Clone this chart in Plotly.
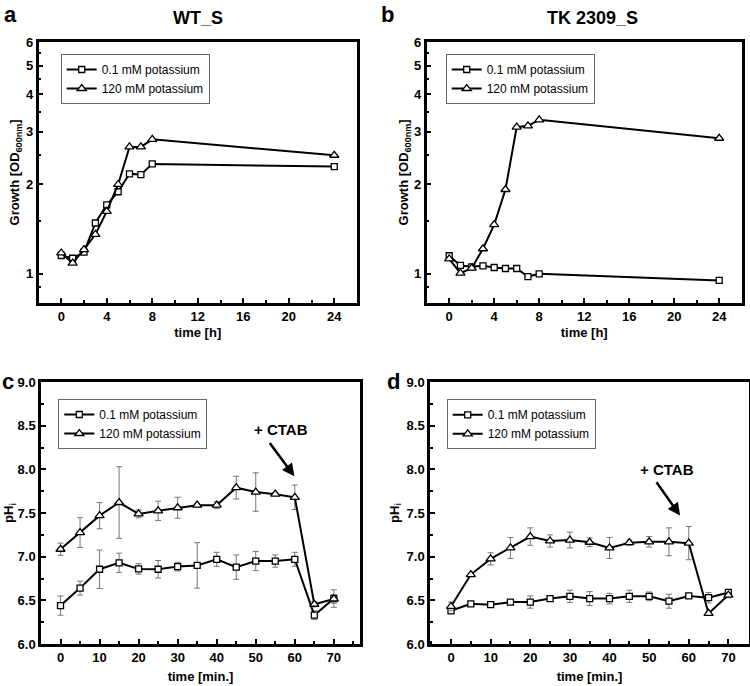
import math
import plotly.graph_objects as go

# ---------------- data ----------------
t_growth = [0, 1, 2, 3, 4, 5, 6, 7, 8, 24]
wt_low = [1.152, 1.128, 1.182, 1.481, 1.705, 1.886, 2.166, 2.153, 2.339, 2.291]
wt_high = [1.175, 1.086, 1.206, 1.357, 1.62, 1.995, 2.667, 2.667, 2.828, 2.50]
tk_low = [1.150, 1.067, 1.056, 1.064, 1.05, 1.042, 1.042, 0.979, 1.0, 0.950]
tk_high = [1.123, 1.005, 1.045, 1.214, 1.463, 1.919, 3.106, 3.139, 3.288, 2.851]

t_ph = [0, 5, 10, 15, 20, 25, 30, 35, 40, 45, 50, 55, 60, 65, 70]
c_low = [6.44, 6.64, 6.856, 6.93, 6.86, 6.856, 6.886, 6.90, 6.97, 6.88, 6.95, 6.95, 6.97, 6.33, 6.52]
c_low_err = [0.11, 0.08, 0.22, 0.11, 0.06, 0.10, 0.05, 0.26, 0.08, 0.14, 0.11, 0.07, 0.08, 0.05, 0.10]
c_high = [7.085, 7.276, 7.47, 7.62, 7.49, 7.525, 7.56, 7.59, 7.59, 7.79, 7.74, 7.716, 7.68, 6.455, 6.516]
c_high_err = [0.07, 0.17, 0.15, 0.41, 0.045, 0.11, 0.12, 0.02, 0.04, 0.13, 0.22, 0.02, 0.14, 0.03, 0.05]
d_low = [6.38, 6.46, 6.45, 6.48, 6.48, 6.52, 6.546, 6.52, 6.52, 6.546, 6.546, 6.49, 6.55, 6.53, 6.59]
d_low_err = [0.03, 0.0, 0.0, 0.02, 0.07, 0.03, 0.07, 0.08, 0.06, 0.07, 0.05, 0.08, 0.02, 0.06, 0.03]
d_high = [6.43, 6.795, 6.975, 7.10, 7.23, 7.18, 7.19, 7.165, 7.10, 7.16, 7.17, 7.17, 7.155, 6.35, 6.56]
d_high_err = [0.05, 0.01, 0.07, 0.12, 0.10, 0.07, 0.09, 0.05, 0.12, 0.03, 0.06, 0.16, 0.19, 0.02, 0.03]

series_names = ["0.1 mM potassium", "120 mM potassium"]
panel_titles = ["WT_S", "TK 2309_S"]
panel_letters = ["a", "b", "c", "d"]

W, H = 750, 686
ML, MR, MT, MB = 30, 0, 0, 40
PW, PH = W - ML - MR, H - MT - MB
FONT = "Liberation Sans, Arial, sans-serif"


def px(x):
    return (x - ML) / PW


def py(y):
    return 1 - (y - MT) / PH


fig = go.Figure()

sq = dict(symbol="square", size=6, color="white", line=dict(color="black", width=1.3))
tr = dict(symbol="triangle-up", size=8, color="white", line=dict(color="black", width=1.3))
ln = dict(color="black", width=2)

# growth panels
for i, (lo, hi) in enumerate([(wt_low, wt_high), (tk_low, tk_high)]):
    ax = "" if i == 0 else str(i + 1)
    lg = "legend" if i == 0 else "legend" + str(i + 1)
    fig.add_trace(go.Scatter(x=t_growth, y=lo, mode="lines+markers", name=series_names[0],
                             line=ln, marker=sq, xaxis="x" + ax, yaxis="y" + ax, legend=lg))
    fig.add_trace(go.Scatter(x=t_growth, y=hi, mode="lines+markers", name=series_names[1],
                             line=ln, marker=tr, xaxis="x" + ax, yaxis="y" + ax, legend=lg))

# pH panels
err_style = dict(type="data", color="#777777", thickness=1, width=3)
for i, (lo, loe, hi, hie) in enumerate([(c_low, c_low_err, c_high, c_high_err),
                                        (d_low, d_low_err, d_high, d_high_err)]):
    ax = str(i + 3)
    lg = "legend" + ax
    fig.add_trace(go.Scatter(x=t_ph, y=lo, mode="lines+markers", name=series_names[0],
                             error_y=dict(array=loe, **err_style),
                             line=ln, marker=sq, xaxis="x" + ax, yaxis="y" + ax, legend=lg))
    fig.add_trace(go.Scatter(x=t_ph, y=hi, mode="lines+markers", name=series_names[1],
                             error_y=dict(array=hie, **err_style),
                             line=ln, marker=tr, xaxis="x" + ax, yaxis="y" + ax, legend=lg))

tickfont = dict(family=FONT, size=13, color="black", weight="bold")
titlefont = dict(family=FONT, size=13, color="black", weight="bold")


def xax(domain, rng, dtick, minor_dtick, title, anchor, standoff):
    return dict(domain=domain, range=rng, anchor=anchor, dtick=dtick, tick0=0,
                showline=True, linecolor="black", linewidth=2.5, mirror=True,
                ticks="inside", ticklen=5, tickwidth=2, tickcolor="black",
                minor=dict(ticks="inside", ticklen=3, tickwidth=1.5, tickcolor="black",
                           dtick=minor_dtick, tick0=0),
                showgrid=False, zeroline=False, tickfont=tickfont, automargin=False,
                title=dict(text=title, font=titlefont, standoff=standoff))


def ylog(domain, anchor, standoff):
    return dict(domain=domain, type="log", range=[math.log10(0.8), math.log10(6)], anchor=anchor,
                tickvals=[1, 2, 3, 4, 5, 6], ticktext=["1", "2", "3", "4", "5", "6"],
                showline=True, linecolor="black", linewidth=2.5, mirror=True,
                ticks="inside", ticklen=5, tickwidth=2, tickcolor="black",
                minor=dict(ticks="inside", ticklen=3, tickwidth=1.5, tickcolor="black",
                           tickvals=[0.9, 1.5, 2.5, 3.5, 4.5, 5.5]),
                showgrid=False, zeroline=False, tickfont=tickfont, automargin=False,
                title=dict(text="Growth [OD<sub>600nm</sub>]", font=titlefont, standoff=standoff))


def yph(domain, anchor, standoff):
    return dict(domain=domain, range=[6, 9], anchor=anchor, dtick=0.5, tick0=6, tickformat=".1f",
                showline=True, linecolor="black", linewidth=2.5, mirror=True,
                ticks="inside", ticklen=5, tickwidth=2, tickcolor="black",
                minor=dict(ticks="inside", ticklen=3, tickwidth=1.5, tickcolor="black",
                           dtick=0.25, tick0=6),
                showgrid=False, zeroline=False, tickfont=tickfont, automargin=False,
                title=dict(text="pH<sub>i</sub>", font=titlefont, standoff=standoff))


top_dom = [py(302.7), py(42)]
bot_dom = [py(644), py(382)]
a_dom = [px(38.5), px(357)]
b_dom = [px(426.7), px(741.7)]
c_dom = [px(41), px(360)]
d_dom = [px(430), px(749)]

legend_common = dict(xanchor="left", yanchor="top", bgcolor="white", bordercolor="#666666",
                     borderwidth=1, font=dict(family=FONT, size=12, color="black"),
                     itemwidth=30, tracegroupgap=0)

fig.update_layout(
    width=W, height=H, margin=dict(l=ML, r=MR, t=MT, b=MB, pad=0, autoexpand=False),
    paper_bgcolor="white", plot_bgcolor="white",
    font=dict(family=FONT, color="black"),
    xaxis=xax(a_dom, [-2, 26], 4, 2, "time [h]", "y", 5),
    yaxis=ylog(top_dom, "x", 4),
    xaxis2=xax(b_dom, [-2, 26], 4, 2, "time [h]", "y2", 5),
    yaxis2=ylog(top_dom, "x2", 3),
    xaxis3=xax(c_dom, [-5, 76.7], 10, 5, "time [min.]", "y3", 8),
    yaxis3=yph(bot_dom, "x3", 1),
    xaxis4=xax(d_dom, [-5.3, 75.2], 10, 5, "time [min.]", "y4", 8),
    yaxis4=yph(bot_dom, "x4", 5),
    legend=dict(x=px(60.7), y=py(54), **legend_common),
    legend2=dict(x=px(445.7), y=py(54), **legend_common),
    legend3=dict(x=px(58.3), y=py(399), **legend_common),
    legend4=dict(x=px(446.7), y=py(399.3), **legend_common),
    showlegend=True,
)

# titles and panel letters
ann_common = dict(xref="paper", yref="paper", showarrow=False, xanchor="center", yanchor="middle")
fig.add_annotation(text=panel_titles[0], x=px(198), y=py(18),
                   font=dict(family=FONT, size=18, weight="bold"), **ann_common)
fig.add_annotation(text=panel_titles[1], x=px(592), y=py(18),
                   font=dict(family=FONT, size=18, weight="bold"), **ann_common)
for letter, (lx, ly) in zip(panel_letters, [(10, 14), (387, 14), (8, 381), (393, 381)]):
    fig.add_annotation(text=letter, x=px(lx), y=py(ly),
                       font=dict(family=FONT, size=22, weight="bold"), **ann_common)

# + CTAB arrows
for ax, (tx, tyv), (hx, hy), (ax0, ay0) in [
    ("3", (56.5, 8.46), (59.9, 7.92), (53.3, 8.32)),
    ("4", (54.5, 8.0), (57.8, 7.47), (51.6, 7.87)),
]:
    fig.add_annotation(text="+ CTAB", x=tx, y=tyv, xref="x" + ax, yref="y" + ax, showarrow=False,
                       xanchor="center", yanchor="middle",
                       font=dict(family=FONT, size=15, weight="bold"))
    fig.add_annotation(text="", x=hx, y=hy, ax=ax0, ay=ay0, xref="x" + ax, yref="y" + ax,
                       axref="x" + ax, ayref="y" + ax, showarrow=True, arrowhead=2,
                       arrowsize=1, arrowwidth=2.5, arrowcolor="black")

fig.write_html("out.html", config={"displayModeBar": False},
               post_script="document.body.style.margin='0';")
